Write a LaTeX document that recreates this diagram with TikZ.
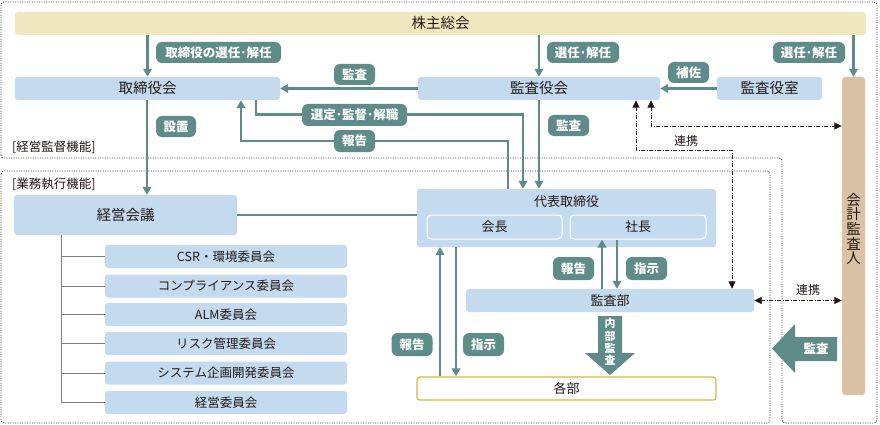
\documentclass[tikz,border=0pt]{standalone}
\usepackage{fontspec}
\setmainfont{Noto Sans CJK JP}
\usetikzlibrary{arrows.meta,calc}
\definecolor{teal1}{HTML}{5F8C89}
\definecolor{lblue}{HTML}{C4DAEE}
\definecolor{cream}{HTML}{F2E8C0}
\definecolor{tan1}{HTML}{DCC2A4}
\definecolor{gold1}{HTML}{D8B840}
\definecolor{ink}{HTML}{231815}
\tikzset{
  box/.style={fill=lblue, rounded corners=3pt, inner sep=0pt, text=ink, font=\fontsize{14.5}{16}\selectfont},
  mbox/.style={box, font=\fontsize{13}{15}\selectfont},
  cbox/.style={box, font=\fontsize{12.5}{14}\selectfont, minimum width=242pt, minimum height=23pt},
  ibox/.style={box, draw=white, line width=1pt, rounded corners=4pt, font=\fontsize{13}{15}\selectfont, minimum height=24pt},
  pill/.style={fill=teal1, rounded corners=6pt, inner sep=0pt, minimum height=21pt, text=white, font=\bfseries\fontsize{12.5}{14}\selectfont},
  tarrow/.style={draw=teal1, line width=2.4pt, -{Triangle[length=8pt,width=8.5pt]}},
  tline/.style={draw=teal1, line width=2.4pt},
  link/.style={draw=ink, line width=0.9pt, dash pattern=on 4pt off 1.5pt on 1pt off 1.5pt, {Triangle[length=7.5pt,width=7pt]}-{Triangle[length=7.5pt,width=7pt]}},
  frame/.style={draw=ink!85, line width=0.8pt, dash pattern=on 1pt off 1.4pt, rounded corners=3pt},
  treeline/.style={draw=black!50, line width=1pt},
  lbl/.style={text=ink, inner sep=0pt, font=\fontsize{12}{14}\selectfont}
}
\begin{document}
\begin{tikzpicture}[x=1pt,y=-1pt]
\useasboundingbox (0,0) rectangle (880,425);
\fill[white] (0,0) rectangle (880,425);

% frames
\draw[frame] (1,158) -- (1,2) -- (877,2) -- (877,423) -- (782,423) -- (782,158) -- cycle;
\draw[frame] (1,171) rectangle (770,423);
\node[lbl, font=\fontsize{12.5}{14}\selectfont, anchor=west] (f1) at (12,147) {[経営監督機能]};
\node[lbl, font=\fontsize{12.5}{14}\selectfont, anchor=west] (f2) at (12,184) {[業務執行機能]};

% main boxes
\node[box, fill=cream, minimum width=851pt, minimum height=23pt] (kabu) at (440.5,23.5) {株主総会};
\node[box, minimum width=265pt, minimum height=23pt] (tori) at (147.5,88.5) {取締役会};
\node[box, minimum width=242pt, minimum height=23pt] (kyk) at (539,88.5) {監査役会};
\node[box, minimum width=105pt, minimum height=23pt] (shitsu) at (769.5,88.5) {監査役室};
\node[box, fill=tan1, minimum width=23pt, minimum height=318pt] (kaikei) at (853.5,236) {};
\node[lbl, font=\fontsize{14.5}{14.6}\selectfont, align=center] (kaikeit) at (853.5,229) {会\\計\\監\\査\\人};
\node[box, minimum width=223pt, minimum height=40pt] (keiei) at (125.5,215) {経営会議};
\node[box, minimum width=299pt, minimum height=58pt] (daihyo) at (566.5,218) {};
\node[lbl, font=\fontsize{13}{15}\selectfont] (daihyot) at (566.5,202) {代表取締役};
\node[ibox, minimum width=135pt] (kaicho) at (494.5,227) {会長};
\node[ibox, minimum width=136pt] (shacho) at (638,227) {社長};
\node[mbox, minimum width=288pt, minimum height=23pt] (kansabu) at (610,300.5) {監査部};
\node[mbox, fill=white, draw=gold1, line width=1.2pt, minimum width=299pt, minimum height=23pt] (kakubu) at (566.5,388.5) {各部};

% committees
\node[cbox] (c1) at (226,256.5) {CSR・環境委員会};
\node[cbox] (c2) at (226,286) {コンプライアンス委員会};
\node[cbox] (c3) at (226,314.5) {ALM委員会};
\node[cbox] (c4) at (226,343.5) {リスク管理委員会};
\node[cbox] (c5) at (226,373) {システム企画開発委員会};
\node[cbox] (c6) at (226,402.5) {経営委員会};
\coordinate (tr) at (61,235);
\draw[treeline] (tr) -- (tr |- c6.west);
\foreach \c in {c1,c2,c3,c4,c5,c6} { \draw[treeline] (tr |- \c.west) -- (\c.west); }

% teal connectors
\draw[tarrow] (kabu.south -| tori.north) -- (tori.north);
\draw[tarrow] (kabu.south -| kyk.north) -- (kyk.north);
\draw[tarrow] (kabu.south -| kaikei.north) -- (kaikei.north);
\draw[tarrow] (kyk.west) -- (tori.east);
\draw[tarrow] (shitsu.west) -- (kyk.east);
\coordinate (t1) at (147,0);
\draw[tarrow] (t1 |- tori.south) -- (t1 |- keiei.north);
\coordinate (a1) at (256,114.5);
\coordinate (a2) at (523,114.5);
\draw[tarrow] (a1 |- tori.south) -- (a1) -- (a2) -- (a2 |- daihyo.north);
\coordinate (b1) at (508,141);
\coordinate (b2) at (241,141);
\draw[tarrow] (b1 |- daihyo.north) -- (b1) -- (b2) -- (b2 |- tori.south);
\draw[tarrow] (kyk.south) -- (kyk.south |- daihyo.north);
\draw[tline] (keiei.east) -- (keiei.east -| daihyo.west);
\coordinate (r1) at (602,0);
\coordinate (r2) at (617,0);
\draw[tarrow] (r1 |- kansabu.north) -- (r1 |- shacho.south);
\draw[tarrow] (r2 |- shacho.south) -- (r2 |- kansabu.north);
\coordinate (u1) at (440,0);
\coordinate (u2) at (456,0);
\draw[tarrow] (u1 |- kakubu.north) -- (u1 |- daihyo.south);
\draw[tarrow] (u2 |- daihyo.south) -- (u2 |- kakubu.north);

% big arrows
\fill[teal1] (598,316) -- (622,316) -- (622,353) -- (635,353) -- (610,375) -- (585,353) -- (598,353) -- cycle;
\node[text=white, inner sep=0pt, font=\bfseries\fontsize{11}{12.3}\selectfont, align=center] (naibu) at (610,342) {内\\部\\監\\査};
\fill[teal1] (837,337) -- (795,337) -- (795,324) -- (772,348.5) -- (795,373) -- (795,361) -- (837,361) -- cycle;
\node[text=white, inner sep=0pt, font=\bfseries\fontsize{12.5}{14}\selectfont] (gkansa) at (816,349) {監査};

% pills
\node[pill, minimum width=125pt] (p1) at (218.5,52.5) {取締役の選任･解任};
\node[pill, minimum width=72pt] (p2) at (583,52.5) {選任･解任};
\node[pill, minimum width=72pt] (p3) at (809,52.5) {選任･解任};
\node[pill, minimum width=41pt] (p4) at (354.5,74.5) {監査};
\node[pill, minimum width=41pt] (p5) at (688.5,72.5) {補佐};
\node[pill, minimum width=40pt] (p6) at (176,126.5) {設置};
\node[pill, minimum width=105pt, minimum height=22pt] (p7) at (354.5,115) {選定･監督･解職};
\node[pill, minimum width=41pt, minimum height=22pt] (p8) at (354.5,141) {報告};
\node[pill, minimum width=41pt] (p9) at (568.5,125.5) {監査};
\node[pill, minimum width=41pt, minimum height=23pt] (p10) at (573.5,268.5) {報告};
\node[pill, minimum width=41pt, minimum height=23pt] (p11) at (646.5,268.5) {指示};
\node[pill, minimum width=41pt, minimum height=23pt] (p12) at (412,344.5) {報告};
\node[pill, minimum width=41pt, minimum height=23pt] (p13) at (483.5,344.5) {指示};

% link (dash-dot) connectors
\coordinate (d1) at (651,126);
\draw[link] (d1 |- kyk.south) -- (d1) -- (d1 -| kaikei.west);
\coordinate (d2) at (636,150);
\coordinate (d3) at (732,150);
\draw[link] (d2 |- kyk.south) -- (d2) -- (d3) -- (d3 |- kansabu.north);
\draw[link] (kansabu.east) -- (kansabu.east -| kaikei.west);
\node[lbl] (l1) at (686,141) {連携};
\node[lbl] (l2) at (808,290) {連携};
\end{tikzpicture}
\end{document}
